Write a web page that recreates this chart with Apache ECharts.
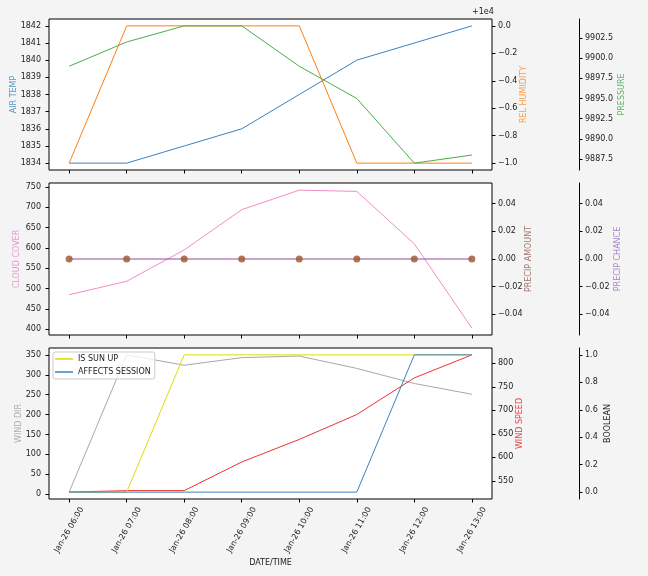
<!DOCTYPE html>
<html>
<head>
<meta charset="utf-8">
<script src="https://cdn.jsdelivr.net/npm/echarts@6/dist/echarts.min.js"></script>
<style>
  html, body { margin: 0; padding: 0; background: #f4f4f4; }
  #main { width: 648px; height: 576px; }
</style>
</head>
<body>
<div id="main"></div>
<script>
// categories
var times = ['Jan-26 06:00', 'Jan-26 07:00', 'Jan-26 08:00', 'Jan-26 09:00',
             'Jan-26 10:00', 'Jan-26 11:00', 'Jan-26 12:00', 'Jan-26 13:00'];

// top panel
var airTemp = [1834, 1834, 1835, 1836, 1838, 1840, 1841, 1842];
var relHumidity = [9999, 10000, 10000, 10000, 10000, 9999, 9999, 9999];
var pressure = [9899, 9902, 9904, 9904, 9899, 9895, 9887, 9888];

// middle panel
var cloudCover = [485, 518, 595, 694, 742, 739, 610, 403];
var precipAmount = [0, 0, 0, 0, 0, 0, 0, 0];
var precipChance = [0, 0, 0, 0, 0, 0, 0, 0];

// bottom panel
var windDir = [5, 350, 324, 343, 347, 316, 278, 251];
var windSpeed = [526, 529, 529, 590, 638, 691, 769, 818];
var isSunUp = [0, 0, 1, 1, 1, 1, 1, 1];
var affectsSession = [0, 0, 0, 0, 0, 0, 1, 1];

// tick labels
var airTempTicks = [1834, 1835, 1836, 1837, 1838, 1839, 1840, 1841, 1842];
var relHumTicks = [9999, 9999.2, 9999.4, 9999.6, 9999.8, 10000];
var pressureTicks = [9887.5, 9890, 9892.5, 9895, 9897.5, 9900, 9902.5];
var cloudTicks = [400, 450, 500, 550, 600, 650, 700, 750];
var precipTicks = [-0.04, -0.02, 0, 0.02, 0.04];
var windDirTicks = [0, 50, 100, 150, 200, 250, 300, 350];
var windSpeedTicks = [550, 600, 650, 700, 750, 800];
var boolTicks = [0, 0.2, 0.4, 0.6, 0.8, 1];

var FONT = 'DejaVu Sans';
var idx = times.map(function (t, i) { return i; });

function pts(arr) {
    return arr.map(function (v, i) { return [i, v]; });
}
// matplotlib style number: fixed decimals, unicode minus, no "-0"
function num(v, d) {
    var p = Math.pow(10, d);
    var r = Math.round(v * p) / p;
    if (Math.abs(r) < 1e-12) r = 0;
    return r.toFixed(d).replace('-', '\u2212');
}

var myChart = echarts.init(document.getElementById('main'));

var grids = [
    { left: 49, width: 443, top: 19, height: 151 },
    { left: 49, width: 443, top: 183, height: 152 },
    { left: 49, width: 443, top: 348, height: 151 }
].map(function (g) {
    g.show = true;
    g.backgroundColor = '#fff';
    g.borderColor = '#000';
    g.borderWidth = 1;
    g.containLabel = false;
    g.outerBoundsMode = 'none';
    return g;
});

function xAx(gi, showLabels) {
    var ax = {
        type: 'value',
        gridIndex: gi,
        position: 'bottom',
        min: -0.35,
        max: 7.35,
        axisLine: { show: false, onZero: false },
        splitLine: { show: false },
        axisTick: { show: true, length: 3.5, customValues: idx, lineStyle: { color: '#000' } },
        axisLabel: { show: false }
    };
    if (showLabels) {
        ax.axisLabel = {
            show: true,
            customValues: idx,
            formatter: function (v) { return times[Math.round(v)]; },
            rotate: 60,
            align: 'center',
            verticalAlign: 'middle',
            margin: 31,
            fontSize: 8,
            fontFamily: FONT,
            color: '#222'
        };
        ax.name = 'DATE/TIME';
        ax.nameLocation = 'middle';
        ax.nameGap = 60;
        ax.nameMoveOverlap = false;
        ax.nameTextStyle = { fontSize: 8, fontFamily: FONT, color: '#222' };
    }
    return ax;
}

function yAx(o) {
    return {
        type: 'value',
        gridIndex: o.grid,
        position: o.pos,
        offset: o.offset || 0,
        min: o.min,
        max: o.max,
        splitLine: { show: false },
        axisLine: { show: !!o.spine, onZero: false, lineStyle: { color: '#000', width: 1 } },
        axisTick: { show: true, length: 3.5, customValues: o.ticks, lineStyle: { color: '#000' } },
        axisLabel: {
            customValues: o.ticks,
            formatter: o.fmt,
            fontSize: 8,
            fontFamily: FONT,
            color: '#222',
            margin: o.pos === 'left' ? 8 : 6
        },
        name: o.name,
        nameLocation: 'middle',
        nameGap: o.gap,
        nameMoveOverlap: false,
        nameTextStyle: { fontSize: 8, fontFamily: FONT, color: o.color }
    };
}

var yAxes = [
    yAx({ grid: 0, pos: 'left', min: 1833.6, max: 1842.4, ticks: airTempTicks,
          fmt: function (v) { return num(v, 0); },
          name: 'AIR TEMP', gap: 31, color: 'rgba(31,119,180,0.75)' }),
    yAx({ grid: 0, pos: 'right', min: 9998.95, max: 10000.05, ticks: relHumTicks,
          fmt: function (v) { return num(v - 10000, 1); },
          name: 'REL HUMIDITY', gap: 28, color: 'rgba(255,127,14,0.75)' }),
    yAx({ grid: 0, pos: 'right', offset: 87, spine: true, min: 9886.15, max: 9904.85, ticks: pressureTicks,
          fmt: function (v) { return num(v, 1); },
          name: 'PRESSURE', gap: 39, color: 'rgba(44,160,44,0.75)' }),
    yAx({ grid: 1, pos: 'left', min: 386, max: 759.6, ticks: cloudTicks,
          fmt: function (v) { return num(v, 0); },
          name: 'CLOUD COVER', gap: 28, color: 'rgba(227,119,194,0.75)' }),
    yAx({ grid: 1, pos: 'right', min: -0.055, max: 0.055, ticks: precipTicks,
          fmt: function (v) { return num(v, 2); },
          name: 'PRECIP AMOUNT', gap: 33, color: 'rgba(140,86,75,0.8)' }),
    yAx({ grid: 1, pos: 'right', offset: 87, spine: true, min: -0.055, max: 0.055, ticks: precipTicks,
          fmt: function (v) { return num(v, 2); },
          name: 'PRECIP CHANCE', gap: 35, color: 'rgba(148,103,189,0.8)' }),
    yAx({ grid: 2, pos: 'left', min: -12.25, max: 367.25, ticks: windDirTicks,
          fmt: function (v) { return num(v, 0); },
          name: 'WIND DIR', gap: 26, color: 'rgba(127,127,127,0.6)' }),
    yAx({ grid: 2, pos: 'right', min: 511.2, max: 832.6, ticks: windSpeedTicks,
          fmt: function (v) { return num(v, 0); },
          name: 'WIND SPEED', gap: 24, color: 'rgba(230,20,20,0.8)' }),
    yAx({ grid: 2, pos: 'right', offset: 87, spine: true, min: -0.05, max: 1.05, ticks: boolTicks,
          fmt: function (v) { return num(v, 1); },
          name: 'BOOLEAN', gap: 25, color: '#222' })
];

function line(name, data, xi, yi, color, z) {
    return {
        name: name,
        type: 'line',
        xAxisIndex: xi,
        yAxisIndex: yi,
        data: pts(data),
        showSymbol: false,
        symbol: 'none',
        lineStyle: { color: color, width: 1 },
        itemStyle: { color: color },
        z: z || 2,
        animation: false
    };
}

myChart.setOption({
    backgroundColor: '#f4f4f4',
    animation: false,
    grid: grids,
    xAxis: [xAx(0, false), xAx(1, false), xAx(2, true)],
    yAxis: yAxes,
    legend: {
        data: ['IS SUN UP', 'AFFECTS SESSION'],
        orient: 'vertical',
        left: 53,
        top: 352,
        icon: 'rect',
        itemWidth: 18,
        itemHeight: 1.5,
        itemGap: 3,
        padding: [2, 4, 2, 2],
        borderColor: '#ccc',
        borderWidth: 1,
        borderRadius: 2,
        backgroundColor: 'rgba(255,255,255,0.8)',
        textStyle: { fontSize: 8, fontFamily: FONT, color: '#222', lineHeight: 10, padding: [0, 0, 0, 0] }
    },
    graphic: [{
        type: 'text',
        left: 472,
        top: 8,
        style: { text: '+1e4', fontSize: 8, fontFamily: FONT, fill: '#222' }
    }],
    series: [
        line('AIR TEMP', airTemp, 0, 0, '#3a82bf'),
        line('REL HUMIDITY', relHumidity, 0, 1, '#ff7f0e'),
        line('PRESSURE', pressure, 0, 2, '#4aad4a'),
        line('CLOUD COVER', cloudCover, 1, 3, '#f28cc8'),
        line('PRECIP CHANCE', precipChance, 1, 5, '#8e4a9c', 2),
        {
            name: 'PRECIP AMOUNT',
            type: 'scatter',
            xAxisIndex: 1,
            yAxisIndex: 4,
            data: pts(precipAmount),
            symbolSize: 7,
            itemStyle: { color: '#a0522d' },
            z: 3,
            animation: false
        },
        line('WIND DIR', windDir, 2, 6, '#a8a8a8'),
        line('WIND SPEED', windSpeed, 2, 7, '#ec3434'),
        line('IS SUN UP', isSunUp, 2, 8, '#dede00'),
        line('AFFECTS SESSION', affectsSession, 2, 8, '#3a82bf')
    ]
});
</script>
</body>
</html>
